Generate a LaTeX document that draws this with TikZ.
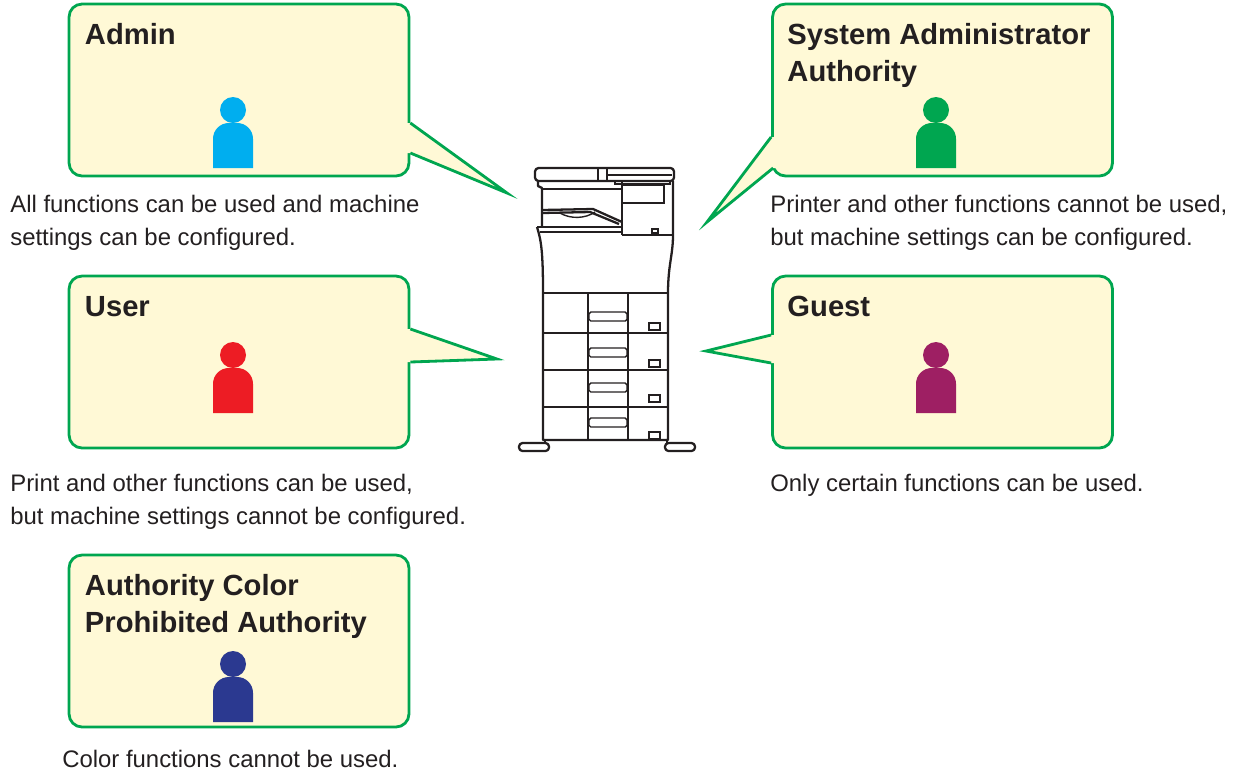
\documentclass[tikz,border=0pt]{standalone}
\usepackage{fontspec}
\setmainfont{Liberation Sans}
\usetikzlibrary{calc}
\definecolor{ink}{HTML}{231F20}
\definecolor{bubbleedge}{HTML}{00A650}
\definecolor{bubble}{HTML}{FFF9D6}
\definecolor{adminblue}{HTML}{00AEEF}
\definecolor{sysgreen}{HTML}{00A650}
\definecolor{userred}{HTML}{ED1C24}
\definecolor{guestpurple}{HTML}{9E1F63}
\definecolor{colornavy}{HTML}{2B3990}

\tikzset{
  person/.pic={
    \fill[pic actions] (0,-13) circle[radius=13];
    \fill[pic actions] (-20,45) [rounded corners=9] -- (-20,0) -- (20,0) [sharp corners] -- (20,45) -- cycle;
  }
}

% #1 base point, #2 tip, #3 base point, #4 shift into the box
\newcommand\bubbletail[4]{%
  \fill[bubble] ($#1+(#4,0)$) -- #1 -- #2 -- #3 -- ($#3+(#4,0)$) -- cycle;
  \draw[tailline] #1 -- #2 -- #3;
}

\begin{document}
\begin{tikzpicture}[
  x=0.02cm, y=-0.02cm,
  role/.style={draw=bubbleedge, fill=bubble, line width=1.6pt, rounded corners=7.4pt, minimum width=6.8cm, minimum height=3.44cm, inner sep=0pt},
  roletitle/.style={anchor=base west, inner sep=0pt, align=left, text=ink, font=\fontsize{16.6}{21}\selectfont\bfseries},
  roletext/.style={anchor=base west, inner sep=0pt, align=left, text=ink, font=\fontsize{13.6}{18.7}\selectfont},
  tailline/.style={draw=bubbleedge, line width=1.6pt, line join=miter},
  mfp/.style={draw=ink, line width=1.3pt, line join=round},
  mfpthin/.style={draw=ink, line width=0.8pt}
]
  \useasboundingbox (0,0) rectangle (1240,772);

  \node[role] (adm) at (239,90) {};
  \node[role] (sys) at (942.5,90) {};
  \node[role] (usr) at (239,362) {};
  \node[role] (gst) at (942.5,362) {};
  \node[role] (acp) at (239,641) {};

  \coordinate (adm-tip) at (507,193);
  \coordinate (sys-tip) at (707,222);
  \coordinate (usr-tip) at (497,359);
  \coordinate (gst-tip) at (706,351);

  \bubbletail{($(adm.east)+(0,33)$)}{(adm-tip)}{($(adm.east)+(0,63)$)}{-4}
  \bubbletail{($(sys.west)+(0,47)$)}{(sys-tip)}{($(sys.west)+(2,78)$)}{4}
  \bubbletail{($(usr.east)+(0,-33)$)}{(usr-tip)}{($(usr.east)+(0,0)$)}{-4}
  \bubbletail{($(gst.west)+(0,-27)$)}{(gst-tip)}{($(gst.west)+(0,1)$)}{4}

  \node[roletitle] (adm-t) at ($(adm.north west)+(17,42)$) {Admin};
  \node[roletitle] (sys-t) at ($(sys.north west)+(16,79)$) {System Administrator\\Authority};
  \node[roletitle] (usr-t) at ($(usr.north west)+(17,42)$) {User};
  \node[roletitle] (gst-t) at ($(gst.north west)+(16,42)$) {Guest};
  \node[roletitle] (acp-t) at ($(acp.north west)+(17,79)$) {Authority Color\\Prohibited Authority};

  \pic[fill=adminblue] at (233,123) {person};
  \pic[fill=sysgreen] at (936,123) {person};
  \pic[fill=userred] at (233,368) {person};
  \pic[fill=guestpurple] at (936,368) {person};
  \pic[fill=colornavy] at (233,677) {person};

  \node[roletext] (adm-d) at (10,245) {All functions can be used and machine\\settings can be configured.};
  \node[roletext] (sys-d) at (770,245) {Printer and other functions cannot be used,\\but machine settings can be configured.};
  \node[roletext] (usr-d) at (10,524) {Print and other functions can be used,\\but machine settings cannot be configured.};
  \node[roletext] (gst-d) at (770,491) {Only certain functions can be used.};
  \node[roletext] (acp-d) at (62,767) {Color functions cannot be used.};

  % multifunction printer
  \draw[mfp, rounded corners=2] (535,181) -- (535,168) -- (674,168) -- (674,181) -- cycle;
  \draw[mfpthin] (598,169) -- (598,181) (607,169) -- (607,181);
  \draw[mfpthin] (608,175) -- (672,175);
  \draw[mfpthin] (615,181) -- (615,184) -- (670,184) -- (670,181);
  \draw[mfp] (538,181) -- (538,186) -- (542,188) -- (542,227);
  \draw[mfpthin] (542,189) -- (622,189);
  \draw[mfpthin] (622,181) -- (622,235);
  \draw[mfpthin] (622,185) -- (664,185) -- (664,203) -- (622,203);
  \draw[mfp] (542,210) -- (593,209) -- (622,222);
  \draw[mfp] (542,213) -- (590,212) -- (619,224);
  \draw[mfpthin] (560,213) .. controls (570,219) and (585,219) .. (595,212);
  \draw[mfp] (537,227) -- (622,227);
  \draw[mfpthin] (540,232) -- (622,232);
  \draw[mfpthin] (622,235) -- (672,235);
  \draw[mfpthin] (652,229) rectangle (658,233);
  \draw[mfp] (537,227) .. controls (541,240) and (543,250) .. (543,293) -- (543,440) -- (668,440) -- (668,293) .. controls (668,265) and (673,255) .. (673,235) -- (673,181);
  \foreach \y in {293,333,370,407}
    \draw[mfpthin] (543,\y) -- (668,\y);
  \draw[mfpthin] (588,293) -- (588,440) (628,293) -- (628,440);
  \foreach \y in {312,348,383,418}
    \draw[mfpthin, rounded corners=1] (589,\y) rectangle (627,\y+9);
  \foreach \y in {323,360,395,432}
    \draw[mfpthin] (649,\y) rectangle (660,\y+7);
  \draw[mfp, rounded corners=2] (519,443) rectangle (549,451);
  \draw[mfp, rounded corners=2] (665,443) rectangle (695,451);
  \draw[mfp] (545,440) -- (545,443) (667,440) -- (667,443);
\end{tikzpicture}
\end{document}
